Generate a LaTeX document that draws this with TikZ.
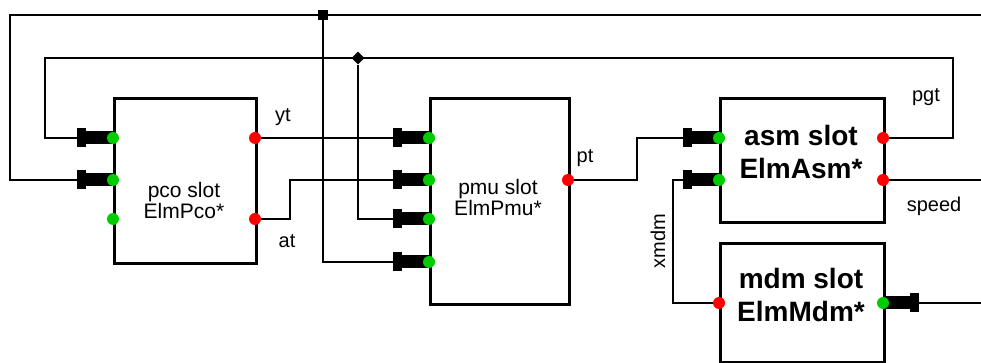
\documentclass[tikz,border=0pt]{standalone}
\usepackage{fontspec}
\setmainfont{Liberation Sans}
\usetikzlibrary{positioning, arrows.meta, shapes.geometric}
\definecolor{portgreen}{RGB}{0,204,0}
\definecolor{portred}{RGB}{255,0,0}

\begin{document}
\begin{tikzpicture}[
    x=0.5pt, y=-0.5pt,
    slot/.style={draw, line width=1.6pt, inner sep=0pt, anchor=north west},
    slottext/.style={font=\fontsize{10.5}{10.5}\selectfont, align=center},
    bigtext/.style={font=\bfseries\fontsize{14}{16.5}\selectfont, align=center},
    wire/.style={line width=0.85pt},
    feed/.style={wire, -{Rectangle[length=4.5pt,width=9.5pt,sep=0pt] Rectangle[length=13.5pt,width=6.5pt]}},
    portin/.style={circle, fill=portgreen, inner sep=0pt, minimum size=6pt},
    portout/.style={circle, fill=portred, inner sep=0pt, minimum size=6pt},
    sig/.style={font=\fontsize{10}{12}\selectfont},
    junc/.style={fill, inner sep=0pt, minimum size=5pt},
    jdiam/.style={diamond, fill, inner sep=0pt, minimum size=6.5pt},
  ]
  \useasboundingbox (0,0) rectangle (981,363);

  % --- Slots ---
  \node[slot, minimum width=71pt, minimum height=82.5pt] (pco) at (113,97) {};
  \node[slot, minimum width=69.5pt, minimum height=103pt] (pmu) at (429,97) {};
  \node[slot, minimum width=82pt, minimum height=62pt] (asm) at (719,97) {};
  \node[slot, minimum width=82pt, minimum height=59.5pt] (mdm) at (719,242) {};

  \node[slottext] (pconame) at (184,200) {pco slot\\ElmPco*};
  \node[slottext] (pmuname) at (498,197) {pmu slot\\ElmPmu*};
  \node[bigtext] (asmname) at (801,152) {asm slot\\ElmAsm*};
  \node[bigtext] (mdmname) at (801,295) {mdm slot\\ElmMdm*};

  % --- Ports ---
  \coordinate (pcoIn1) at (113,138);
  \coordinate (pcoIn2) at (113,180);
  \coordinate (pcoIn3) at (113,219);
  \coordinate (pcoOut1) at (255,138);
  \coordinate (pcoOut2) at (255,219);
  \coordinate (pmuIn1) at (429,138);
  \coordinate (pmuIn2) at (429,180);
  \coordinate (pmuIn3) at (429,219);
  \coordinate (pmuIn4) at (429,262);
  \coordinate (pmuOut) at (568,180);
  \coordinate (asmIn1) at (719,138);
  \coordinate (asmIn2) at (719,180);
  \coordinate (asmOut1) at (883,138);
  \coordinate (asmOut2) at (883,180);
  \coordinate (mdmIn) at (883,303);
  \coordinate (mdmOut) at (719,303);

  % --- Free ends ---
  \coordinate (eTop) at (981,15);
  \coordinate (eSpeed) at (981,180);
  \coordinate (eMdm) at (981,303);

  % --- Junctions ---
  \node[junc] (jTop) at (323,15) {};
  \node[jdiam] (jPgt) at (358,58) {};

  % --- Wires ---
  \draw[feed] (eTop) -- (10,15) |- (pcoIn2);
  \draw[feed] (jTop) |- (pmuIn4);

  \draw[feed] (asmOut1) -| (953,58) -- (45,58) |- (pcoIn1);
  \draw[feed] (jPgt) |- (pmuIn3);

  \draw[feed] (pcoOut1) -- (pmuIn1);
  \draw[feed] (pcoOut2) -- (290,219) |- (pmuIn2);
  \draw[feed] (pmuOut) -- (637,180) |- (asmIn1);
  \draw[feed] (mdmOut) -- (673,303) |- (asmIn2);
  \draw[wire] (asmOut2) -- (eSpeed);
  \draw[feed] (eMdm) -- (mdmIn);

  % --- Port dots ---
  \foreach \p in {pcoIn1,pcoIn2,pcoIn3,pmuIn1,pmuIn2,pmuIn3,pmuIn4,asmIn1,asmIn2,mdmIn}
    \node[portin] at (\p) {};
  \foreach \p in {pcoOut1,pcoOut2,pmuOut,asmOut1,asmOut2,mdmOut}
    \node[portout] at (\p) {};

  % --- Signal labels ---
  \node[sig] (lyt) at (283,117) {yt};
  \node[sig] (lat) at (287,241) {at};
  \node[sig] (lpt) at (585,158) {pt};
  \node[sig] (lpgt) at (926,97) {pgt};
  \node[sig] (lspeed) at (934,206) {speed};
  \node[sig, rotate=90] (lxmdm) at (658,241) {xmdm};

\end{tikzpicture}
\end{document}
